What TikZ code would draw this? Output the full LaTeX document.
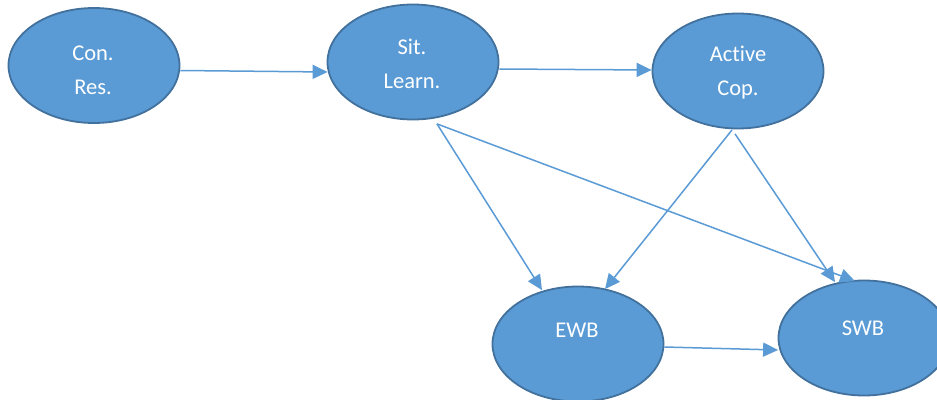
\documentclass[tikz,border=0pt]{standalone}
\usepackage{fontspec}
\setmainfont{Carlito}[Ligatures={NoCommon,NoContextual}]
\usetikzlibrary{shapes.geometric,arrows.meta,calc}
\definecolor{fillblue}{HTML}{5B9BD5}
\definecolor{edgeblue}{HTML}{41719C}
\definecolor{lineblue}{HTML}{5B9BD5}
\begin{document}
\begin{tikzpicture}[x=1pt,y=-1pt,
  bubble/.style={ellipse, draw=edgeblue, line width=1.8pt, fill=fillblue,
    minimum width=171pt, minimum height=115pt, inner sep=0pt},
  lbl/.style={text=white, align=center, font=\fontsize{22.5}{34}\selectfont},
  conn/.style={draw=lineblue, line width=1.5pt,
    -{Triangle[length=15pt,width=14pt]}}]
\useasboundingbox (0,0) rectangle (937,399);
\clip (0,0) rectangle (937,399);
\fill[white] (0,0) rectangle (937,399);
% ellipses
\node[bubble] (con) at (94,65.5) {};
\node[bubble] (sit) at (413,62) {};
\node[bubble] (act) at (738,71) {};
\node[bubble] (ewb) at (578,344) {};
\node[bubble] (swb) at (864,338) {};
% labels
\node[lbl] (conl) at (93,70) {Con.\\Res.};
\node[lbl] (sitl) at (412,64) {Sit.\\Learn.};
\node[lbl] (actl) at (738,73) {Active\\Cop.};
\node[lbl] (ewbl) at (577,330) {EWB};
\node[lbl] (swbl) at (863,328) {SWB};
% connectors
\draw[conn] ($(con.east)+(0,5)$) -- ($(sit.west)+(1,10)$);
\draw[conn] ($(sit.east)+(0,7)$) -- ($(act.west)+(0,-1)$);
\draw[conn] ($(sit.south)+(24,3.5)$) -- ($(ewb.north)+(-36,4.5)$);
\draw[conn] ($(sit.south)+(24,3.5)$) -- ($(swb.north)+(-9,1.5)$);
\draw[conn] ($(act.south)+(-6,0.5)$) -- ($(ewb.north)+(27,3.5)$);
\draw[conn] ($(act.south)+(-3,4.5)$) -- ($(swb.north)+(-29,2.5)$);
\draw[conn] ($(ewb.east)+(0,3)$) -- ($(swb.west)+(0.5,12)$);
\end{tikzpicture}
\end{document}
